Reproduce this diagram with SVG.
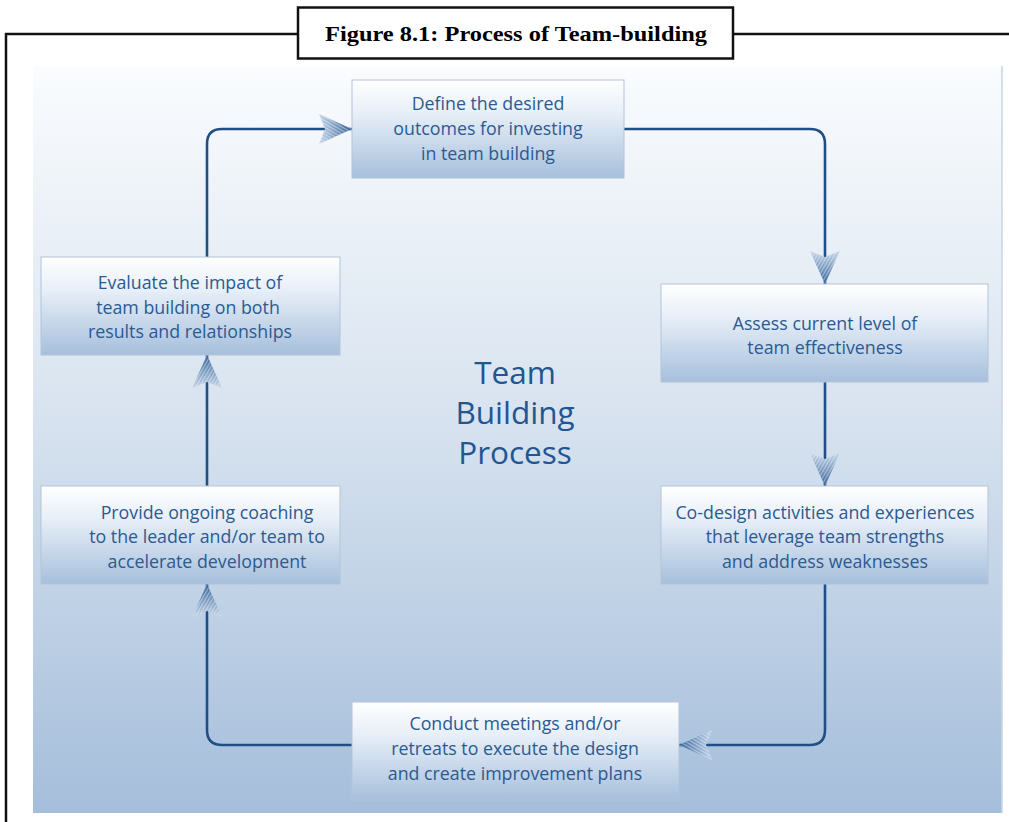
<svg xmlns="http://www.w3.org/2000/svg" width="1009" height="822" viewBox="0 0 1009 822">
<style>
.frame{fill:none;stroke:#111;stroke-width:2.5}
.box{fill:url(#boxg);stroke:#b3c4d8;stroke-width:1}
.lbl{font-family:"Open Sans","Noto Sans",sans-serif;font-size:17.8px;fill:#2b5a91;text-anchor:middle}
.big{font-family:"Open Sans","Noto Sans",sans-serif;font-size:31.5px;fill:#235592;text-anchor:middle}
.conn{fill:none;stroke:#1f4f85;stroke-width:2.6}
</style>
<defs>
<linearGradient id="panelg" x1="0" y1="0" x2="0" y2="1">
<stop offset="0" stop-color="#fafcfe"/>
<stop offset="0.45" stop-color="#d9e4f0"/>
<stop offset="1" stop-color="#a5bedb"/>
</linearGradient>
<linearGradient id="boxg" x1="0" y1="0" x2="0" y2="1">
<stop offset="0" stop-color="#ffffff"/>
<stop offset="0.35" stop-color="#e6eef7"/>
<stop offset="1" stop-color="#a6bfdc"/>
</linearGradient>
<linearGradient id="arrg" x1="0" y1="0" x2="1" y2="0">
<stop offset="0" stop-color="#c4d4e8"/>
<stop offset="1" stop-color="#2c5d96"/>
</linearGradient>
<pattern id="stripes" patternUnits="userSpaceOnUse" width="3" height="3" patternTransform="rotate(30)">
<rect width="3" height="1.2" fill="#ffffff" fill-opacity="0.45"/>
</pattern>
<marker id="ah" markerUnits="userSpaceOnUse" markerWidth="34" markerHeight="32" refX="33" refY="16" orient="auto" viewBox="0 0 34 32">
<path d="M0,1 L33,16 L0,31 L6,16 Z" fill="url(#arrg)"/>
<path d="M0,1 L33,16 L0,31 L6,16 Z" fill="url(#stripes)"/>
</marker>
</defs>
<rect x="33" y="66" width="969" height="747" fill="url(#panelg)"/>
<line x1="1002" y1="66" x2="1002" y2="813" stroke="#c9d6e4" stroke-width="1.5"/>
<g id="frame">
<path class="frame" d="M5,34 H298 M733,34 H1009 M6,33 V822"/>
<rect x="298" y="7.5" width="435" height="51" fill="#fff" stroke="#111" stroke-width="2.5"/>
<text x="516" y="41" font-family="'Liberation Serif',serif" font-weight="bold" font-size="22" text-anchor="middle" textLength="382" lengthAdjust="spacingAndGlyphs">Figure 8.1: Process of Team-building</text>
</g>
<g id="connectors">
<path class="conn" d="M624,129 H810 Q825,129 825,144 V284" marker-end="url(#ah)"/>
<path class="conn" d="M825,382 V486" marker-end="url(#ah)"/>
<path class="conn" d="M825,584 V730 Q825,745 810,745 H679" marker-end="url(#ah)"/>
<path class="conn" d="M352,745 H222 Q207,745 207,730 V584" marker-end="url(#ah)"/>
<path class="conn" d="M207,486 V355" marker-end="url(#ah)"/>
<path class="conn" d="M207,257 V144 Q207,129 222,129 H352" marker-end="url(#ah)"/>
</g>
<g id="n-define">
<rect class="box" x="352" y="80" width="272" height="98"/>
<text class="lbl" x="488" y="110">Define the desired</text>
<text class="lbl" x="488" y="135">outcomes for investing</text>
<text class="lbl" x="488" y="160">in team building</text>
</g>
<g id="n-assess">
<rect class="box" x="661" y="284" width="327" height="98"/>
<text class="lbl" x="825" y="330">Assess current level of</text>
<text class="lbl" x="825" y="354">team effectiveness</text>
</g>
<g id="n-codesign">
<rect class="box" x="661" y="486" width="327" height="98"/>
<text class="lbl" x="825" y="519">Co-design activities and experiences</text>
<text class="lbl" x="825" y="543">that leverage team strengths</text>
<text class="lbl" x="825" y="568">and address weaknesses</text>
</g>
<g id="n-conduct">
<rect class="box" x="352" y="702" width="327" height="98"/>
<text class="lbl" x="515" y="730">Conduct meetings and/or</text>
<text class="lbl" x="515" y="755">retreats to execute the design</text>
<text class="lbl" x="515" y="780">and create improvement plans</text>
</g>
<g id="n-coaching">
<rect class="box" x="41" y="486" width="299" height="98"/>
<text class="lbl" x="207" y="519">Provide ongoing coaching</text>
<text class="lbl" x="207" y="543">to the leader and/or team to</text>
<text class="lbl" x="207" y="568">accelerate development</text>
</g>
<g id="n-evaluate">
<rect class="box" x="41" y="257" width="299" height="98"/>
<text class="lbl" x="190" y="289">Evaluate the impact of</text>
<text class="lbl" x="188" y="314">team building on both</text>
<text class="lbl" x="190" y="338">results and relationships</text>
</g>
<g id="center">
<text class="big" x="515" y="384">Team</text>
<text class="big" x="515" y="424">Building</text>
<text class="big" x="515" y="464">Process</text>
</g>
</svg>
